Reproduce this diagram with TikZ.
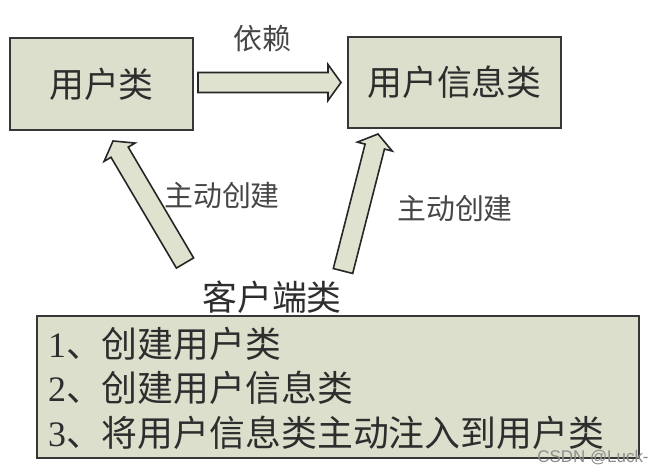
\documentclass[tikz,border=0pt]{standalone}
\usepackage{fontspec}
\setmainfont{Liberation Serif}
\setsansfont{Liberation Sans}
\newfontfamily\cjk{Noto Sans CJK SC}
\usetikzlibrary{calc}
\definecolor{boxfill}{RGB}{220,223,204}
\definecolor{arrfill}{RGB}{223,226,207}
\definecolor{edge}{RGB}{55,55,55}
\definecolor{ink}{RGB}{45,45,45}
\definecolor{lbl}{RGB}{70,70,70}
\tikzset{
  classbox/.style={draw=edge, line width=2bp, fill=boxfill, rectangle, inner sep=0pt, text=ink,
    font=\cjk\fontsize{35}{40}\selectfont},
  barrow/.style={draw=black!85, line width=1.6bp, fill=arrfill, line join=miter},
  lab/.style={text=lbl, inner sep=0pt, font=\cjk\fontsize{29}{33}\selectfont},
  itemtext/.style={text=ink, inner sep=0pt, anchor=west, font=\fontsize{36}{42}\selectfont},
  wm/.style={text=black!45, inner sep=0pt, font=\sffamily\fontsize{17}{20}\selectfont}
}
\newcommand\blockarr[2]{%
  \coordinate (#1h) at ($(#2)!13bp!(#1)$);
  \draw[barrow] ($(#1)!10bp!90:(#2)$) -- ($(#1h)!10bp!90:(#2)$) -- ($(#1h)!18bp!90:(#2)$) -- (#2)
    -- ($(#1h)!18bp!-90:(#2)$) -- ($(#1h)!10bp!-90:(#2)$) -- ($(#1)!10bp!-90:(#2)$) -- cycle;}
\begin{document}
\begin{tikzpicture}[x=1bp,y=-1bp]
\useasboundingbox (0,0) rectangle (667,474);
% classes
\node[classbox, minimum width=183bp, minimum height=92bp] (u) at (101.5,84) {用户类};
\node[classbox, minimum width=213bp, minimum height=91bp] (i) at (454.5,82.5) {用户信息类};
% client
\node[text=ink, inner sep=0pt, font=\cjk\fontsize{35}{40}\selectfont] (c) at (272,297) {客户端类};
\node[draw=edge, line width=2bp, fill=boxfill, rectangle, inner sep=0pt,
      minimum width=602bp, minimum height=142bp] (cb) at (338,387) {};
\node[itemtext] (l1) at (48,344) {1{\cjk 、创建用户类}};
\node[itemtext] (l2) at (48,388) {2{\cjk 、创建用户信息类}};
\node[itemtext] (l3) at (48,433) {3{\cjk 、将用户信息类主动注入到用户类}};
% arrows
\coordinate (d1) at ($(u.east)+(4,-1.5)$);
\coordinate (d2) at ($(i.west)+(-6,0)$);
\blockarr{d1}{d2}
\coordinate (t1) at (185,263);
\coordinate (p1) at (113,141);
\blockarr{t1}{p1}
\coordinate (t2) at (343,271);
\coordinate (p2) at (378,134);
\blockarr{t2}{p2}
% labels
\node[lab] (dep) at (262,39) {依赖};
\node[lab] (cr1) at (222,196) {主动创建};
\node[lab] (cr2) at (455,209) {主动创建};
\node[wm] (w) at (593,458) {CSDN @Luck-};
\end{tikzpicture}
\end{document}
